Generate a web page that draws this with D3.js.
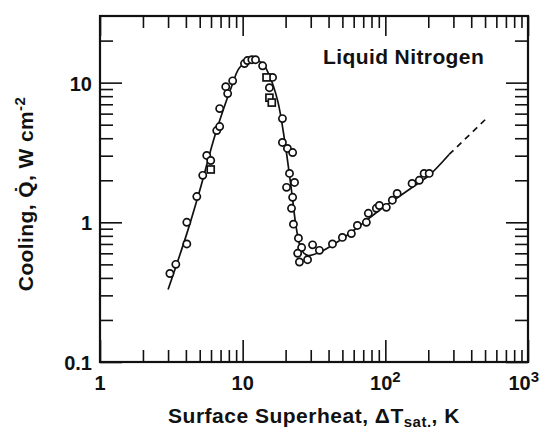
<!DOCTYPE html>
<html lang="en">
<head>
<meta charset="UTF-8">
<title>Liquid Nitrogen boiling curve</title>
<script src="https://d3js.org/d3.v7.min.js"></script>
<style>
    body { margin: 0; background: #fff; }
    svg text {
        font-family: "Liberation Sans", Arial, sans-serif;
        font-weight: bold;
        fill: #111;
    }
</style>
</head>
<body>
<svg width="540" height="432"></svg>
<script>
    // solid fitted curve, [superheat K, cooling W/cm2]
    const curveSolid = [
        [3.0, 0.33], [4.06, 0.83], [5.0, 1.69], [6.4, 4.2], [8.4, 9.5], [9.5, 12.8],
        [11.2, 14.4], [13.6, 13.9], [15.4, 11.2], [17.6, 7.4], [19.7, 3.85], [22.0, 1.69],
        [23.9, 0.88], [25.9, 0.63], [28.5, 0.58], [34.5, 0.61], [47.7, 0.74], [65.8, 0.94],
        [90.8, 1.22], [125, 1.53], [173, 1.93], [203, 2.17], [280, 3.06]
    ];
    // dashed extrapolation
    const curveDashed = [[280, 3.06], [517, 5.6]];

    // measured points, circles
    const circlePts = [
        [3.09, 0.43], [3.40, 0.50], [4.06, 0.70], [4.06, 1.0], [4.77, 1.53], [5.25, 2.17],
        [5.60, 3.01], [5.97, 2.77], [6.58, 4.54], [6.90, 4.85], [6.90, 6.52], [7.61, 9.36],
        [7.85, 8.35], [8.51, 10.3], [10.3, 13.7], [10.8, 14.4], [11.6, 14.6], [12.3, 14.6],
        [13.8, 13.2], [16.2, 10.9], [15.4, 9.2], [19.0, 5.53], [19.0, 3.73], [20.6, 3.38],
        [22.4, 3.16], [21.3, 2.24], [23.1, 1.93], [20.3, 1.78], [22.4, 1.51], [22.0, 1.26],
        [22.7, 0.97], [24.6, 0.77], [25.9, 0.66], [24.3, 0.60], [25.0, 0.52], [28.5, 0.54],
        [30.9, 0.69], [34.5, 0.63], [42.6, 0.70], [50.0, 0.78], [57.8, 0.83], [63.7, 0.95],
        [73.6, 1.0], [76.0, 1.16], [86.5, 1.26], [90.8, 1.32], [101.6, 1.28], [112, 1.44],
        [121, 1.61], [154, 1.90], [173, 2.0], [187, 2.24], [203, 2.24]
    ];
    // measured points, squares
    const squarePts = [[5.97, 2.39], [14.7, 10.9], [15.4, 7.8], [16.0, 7.2]];

    const xTickLabels = [{ v: 1, base: "1", sup: "" }, { v: 10, base: "10", sup: "" },
                         { v: 100, base: "10", sup: "2" }, { v: 1000, base: "10", sup: "3" }];
    const yTickLabels = [{ v: 0.1, t: "0.1" }, { v: 1, t: "1" }, { v: 10, t: "10" }];
    const xMajor = [1, 10, 100, 1000];
    const yMajor = [0.1, 1, 10];

    const mLeft = 100, mRight = 528, mTop = 16, mBottom = 362;
    const svg = d3.select("svg");

    const x = d3.scaleLog().domain([1, 1000]).range([mLeft, mRight]);
    const y = d3.scaleLog().domain([0.1, 30]).range([mBottom, mTop]);

    const xMinor = x.ticks().filter(v => xMajor.indexOf(v) < 0);
    const yMinor = y.ticks().filter(v => yMajor.indexOf(v) < 0 && v < 30);

    function styleAxis(g) {
        g.select(".domain").remove();
        g.selectAll("line").attr("stroke", "#111").attr("stroke-width", 1.6);
        g.selectAll("text").remove();
    }

    // ticks, all pointing inward
    svg.append("g").attr("transform", `translate(0,${mBottom})`)
        .call(d3.axisBottom(x).tickValues(xMinor).tickSize(-12)).call(styleAxis);
    svg.append("g").attr("transform", `translate(0,${mBottom})`)
        .call(d3.axisBottom(x).tickValues(xMajor).tickSize(-22)).call(styleAxis);
    svg.append("g").attr("transform", `translate(0,${mTop})`)
        .call(d3.axisTop(x).tickValues(xMinor).tickSize(-12)).call(styleAxis);
    svg.append("g").attr("transform", `translate(0,${mTop})`)
        .call(d3.axisTop(x).tickValues(xMajor).tickSize(-20)).call(styleAxis);
    svg.append("g").attr("transform", `translate(${mLeft},0)`)
        .call(d3.axisLeft(y).tickValues(yMinor).tickSize(-13)).call(styleAxis);
    svg.append("g").attr("transform", `translate(${mLeft},0)`)
        .call(d3.axisLeft(y).tickValues(yMajor).tickSize(-22)).call(styleAxis);
    svg.append("g").attr("transform", `translate(${mRight},0)`)
        .call(d3.axisRight(y).tickValues(yMinor).tickSize(-13)).call(styleAxis);
    svg.append("g").attr("transform", `translate(${mRight},0)`)
        .call(d3.axisRight(y).tickValues(yMajor).tickSize(-22)).call(styleAxis);

    // frame
    svg.append("rect")
        .attr("x", mLeft).attr("y", mTop)
        .attr("width", mRight - mLeft).attr("height", mBottom - mTop)
        .attr("fill", "none").attr("stroke", "#111").attr("stroke-width", 2.2);

    // curves
    const line = d3.line().x(d => x(d[0])).y(d => y(d[1])).curve(d3.curveCatmullRom);
    svg.append("path").datum(curveSolid).attr("d", line)
        .attr("fill", "none").attr("stroke", "#111").attr("stroke-width", 1.7);
    svg.append("path").datum(curveDashed).attr("d", d3.line().x(d => x(d[0])).y(d => y(d[1])))
        .attr("fill", "none").attr("stroke", "#111").attr("stroke-width", 1.7)
        .attr("stroke-dasharray", "6,5");

    // markers
    svg.append("g").selectAll("circle").data(circlePts).enter().append("circle")
        .attr("cx", d => x(d[0])).attr("cy", d => y(d[1])).attr("r", 3.6)
        .attr("fill", "#fff").attr("stroke", "#111").attr("stroke-width", 1.7);
    svg.append("g").selectAll("rect").data(squarePts).enter().append("rect")
        .attr("x", d => x(d[0]) - 3.5).attr("y", d => y(d[1]) - 3.5)
        .attr("width", 7).attr("height", 7)
        .attr("fill", "#fff").attr("stroke", "#111").attr("stroke-width", 1.7);

    // tick labels
    svg.append("g").selectAll("text").data(yTickLabels).enter().append("text")
        .attr("x", mLeft - 8).attr("y", d => y(d.v) + 8)
        .attr("text-anchor", "end").attr("font-size", 20)
        .text(d => d.t);

    const xl = svg.append("g").selectAll("text").data(xTickLabels).enter().append("text")
        .attr("x", (d, i) => i === xTickLabels.length - 1 ? x(d.v) + 11 : x(d.v))
        .attr("y", mBottom + 28)
        .attr("text-anchor", (d, i) => i === xTickLabels.length - 1 ? "end" : "middle")
        .attr("font-size", 20);
    xl.append("tspan").text(d => d.base);
    xl.append("tspan").attr("dy", -8).attr("font-size", 15).text(d => d.sup);

    // axis titles
    const xt = svg.append("text")
        .attr("x", (mLeft + mRight) / 2).attr("y", 423)
        .attr("text-anchor", "middle").attr("font-size", 21)
        .attr("letter-spacing", 0.5);
    xt.append("tspan").text("Surface Superheat,  \u0394T");
    xt.append("tspan").attr("dy", 4).attr("font-size", 15).text("sat.");
    xt.append("tspan").attr("dy", -4).text(", K");

    const yt = svg.append("text")
        .attr("transform", "translate(33,194) rotate(-90)")
        .attr("text-anchor", "middle").attr("font-size", 21)
        .attr("letter-spacing", 0.4);
    yt.append("tspan").text("Cooling, Q\u0307, W cm");
    yt.append("tspan").attr("dy", -8).attr("font-size", 15).text("-2");

    svg.append("text")
        .attr("x", 323).attr("y", 64)
        .attr("font-size", 21)
        .attr("letter-spacing", 0.4)
        .text("Liquid Nitrogen");
</script>
</body>
</html>
